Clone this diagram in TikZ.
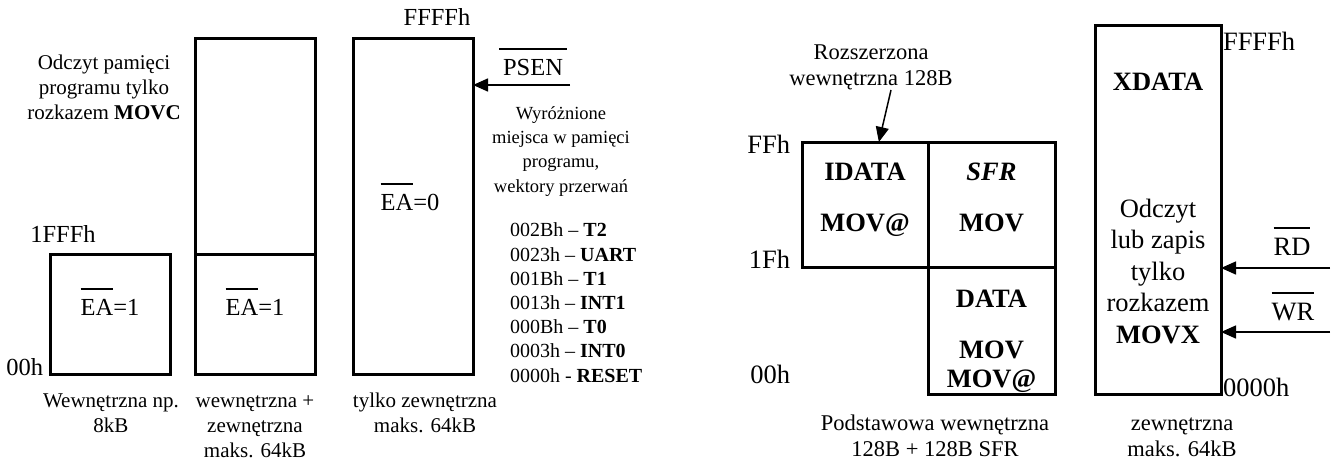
\documentclass[tikz,border=0pt]{standalone}
\usepackage{fontspec}
\setmainfont{Liberation Serif}
\usetikzlibrary{arrows.meta,calc}
\newcommand\ovl[2][0pt]{\leavevmode\vbox{\hrule height 1.5pt\kern 9pt\hbox{\kern#1\relax #2\kern#1\relax}}}
\begin{document}
\begin{tikzpicture}[x=1pt,y=-1pt,
  membox/.style={draw, line width=3pt, rectangle, inner sep=0pt, outer sep=0pt, anchor=north west},
  txt/.style={inner sep=0pt, outer sep=0pt, align=center},
  fdesc/.style={font=\fontsize{21}{25}\selectfont},
  flab/.style={font=\fontsize{24.5}{28}\selectfont},
  frdesc/.style={font=\fontsize{22.5}{25.5}\selectfont},
  frbox/.style={font=\fontsize{26.5}{31.5}\selectfont},
  sig/.style={-{Triangle[length=15pt,width=13pt]}, line width=1.5pt},
]
\useasboundingbox (0,0) rectangle (1332,463);
% ---------- left: program memory ----------
\node[membox, minimum width=120pt, minimum height=120pt] (b1) at (50,254) {};
\node[membox, minimum width=120pt, minimum height=216pt] (b2u) at (195,38) {};
\node[membox, minimum width=120pt, minimum height=120pt] (b2l) at (195,254) {};
\node[membox, minimum width=120pt, minimum height=336pt] (b3) at (353,38) {};

\node[txt, fdesc, anchor=base] (odczyt) at (104,119) {Odczyt pamięci\\programu tylko\\rozkazem \textbf{MOVC}};
\node[txt, flab, anchor=base] (a1fff) at (63,242) {1FFFh};
\node[txt, flab, anchor=base east] (a00l) at (43,375) {00h};
\node[txt, flab, anchor=base] (ea1a) at (110,315) {\ovl{EA}=1};
\node[txt, flab, anchor=base] (ea1b) at (255,315) {\ovl{EA}=1};
\node[txt, flab, anchor=base] (ea0) at (410,210) {\ovl{EA}=0};
\node[txt, flab, anchor=base] (affff) at (437,25) {FFFFh};
\node[txt, flab, anchor=base] (psen) at (533,75) {\ovl[4pt]{PSEN}};
\coordinate (psenR) at (570,85);
\draw[sig] (psenR) -- (psenR -| b3.east);
\node[txt, anchor=base, font=\fontsize{18.5}{24.3}\selectfont] (wyr) at (561,192) {Wyróżnione\\miejsca w pamięci\\programu,\\wektory przerwań};
\node[txt, anchor=base west, align=left, font=\fontsize{20}{24.2}\selectfont] (vec) at (510,382) {002Bh – \textbf{T2}\\0023h – \textbf{UART}\\001Bh – \textbf{T1}\\0013h – \textbf{INT1}\\000Bh – \textbf{T0}\\0003h – \textbf{INT0}\\0000h - \textbf{RESET}};
\node[txt, fdesc, anchor=base] (c1) at (111,432) {Wewnętrzna np.\\8kB};
\node[txt, fdesc, anchor=base] (c2) at (255,457) {wewnętrzna +\\zewnętrzna\\maks. 64kB};
\node[txt, fdesc, anchor=base] (c3) at (425,432) {tylko zewnętrzna\\maks. 64kB};
% ---------- right: data memory ----------
\node[membox, minimum width=126pt, minimum height=125pt] (idata) at (802,142) {};
\node[membox, minimum width=127pt, minimum height=125pt] (sfr) at (928,142) {};
\node[membox, minimum width=127pt, minimum height=127pt] (data) at (928,267) {};
\node[membox, minimum width=126pt, minimum height=369pt] (xdata) at (1095,25) {};

\node[txt, frdesc, anchor=base] (roz) at (871,85) {Rozszerzona\\wewnętrzna 128B};
\coordinate (rzs) at (891,90);
\draw[sig] (rzs) -- ($(idata.north west)!0.61!(idata.north east)$);
\node[txt, frbox, anchor=base east] (aff) at (790,153) {FFh};
\node[txt, frbox, anchor=base east] (a1f) at (790,268) {1Fh};
\node[txt, frbox, anchor=base east] (a00r) at (790,383) {00h};
\node[txt, frbox, anchor=base] (tid) at (865,180) {\textbf{IDATA}};
\node[txt, frbox, anchor=base] (tidm) at (865,231) {\textbf{MOV@}};
\node[txt, frbox, anchor=base] (tsfr) at (991.5,180) {\textbf{\textit{SFR}}};
\node[txt, frbox, anchor=base] (tsfrm) at (991.5,231) {\textbf{MOV}};
\node[txt, frbox, anchor=base] (tdat) at (991.5,307) {\textbf{DATA}};
\node[txt, anchor=base, font=\fontsize{26.5}{29}\selectfont] (tdatm) at (991.5,387) {\textbf{MOV}\\\textbf{MOV@}};
\node[txt, frdesc, anchor=base] (c4) at (935,456) {Podstawowa wewnętrzna\\128B + 128B SFR};
\node[txt, frbox, anchor=base] (txd) at (1158,90) {\textbf{XDATA}};
\node[txt, frbox, anchor=base] (txo) at (1158,343) {Odczyt\\lub zapis\\tylko\\rozkazem\\\textbf{MOVX}};
\node[txt, frbox, anchor=base west] (aff2) at (1223,50) {FFFFh};
\node[txt, frbox, anchor=base west] (a002) at (1223,396) {0000h};
\node[txt, frdesc, anchor=base] (c5) at (1182,456) {zewnętrzna\\maks. 64kB};
\node[txt, frbox, anchor=base] (rd) at (1292,255) {\ovl{RD}};
\node[txt, frbox, anchor=base] (wr) at (1293,320) {\ovl{WR}};
\coordinate (rdR) at (1330,268);
\coordinate (wrR) at (1330,332);
\draw[sig] (rdR) -- (rdR -| xdata.east);
\draw[sig] (wrR) -- (wrR -| xdata.east);
\end{tikzpicture}
\end{document}
